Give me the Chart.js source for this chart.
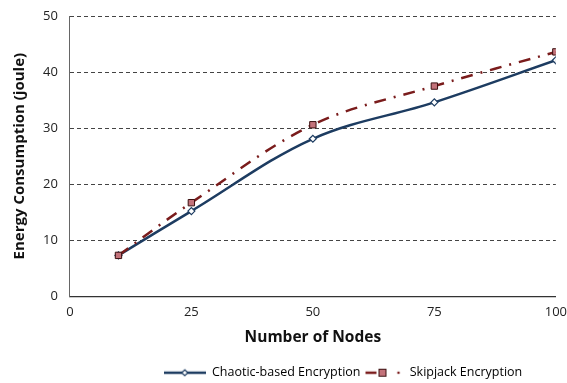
<!DOCTYPE html>
<html>
<head>
<meta charset="utf-8">
<script src="https://cdn.jsdelivr.net/npm/chart.js@4"></script>
<style>
  html, body { margin: 0; padding: 0; background: #fff; }
  #wrap { width: 567px; height: 383px; }
</style>
</head>
<body>
<div id="wrap"><canvas id="chart"></canvas></div>
<script>
// data
const nodes = [10, 25, 50, 75, 100];
const chaotic = [7.3, 15.2, 28.1, 34.6, 42.1];
const skipjack = [7.3, 16.7, 30.6, 37.5, 43.6];
const xTicks = [0, 25, 50, 75, 100];
const yTicks = [0, 10, 20, 30, 40, 50];

const navy = '#1d3c61';
const darkRed = '#7a1c1c';
const rose = '#c3727a';

function toPoints(values) {
  return nodes.map((n, i) => ({ x: n, y: values[i] }));
}

// legend swatches: line with marker
function chaoticSwatch() {
  const c = document.createElement('canvas');
  c.width = 42; c.height = 10;
  const ctx = c.getContext('2d');
  ctx.strokeStyle = navy; ctx.lineWidth = 2.5;
  ctx.beginPath(); ctx.moveTo(0, 5); ctx.lineTo(42, 5); ctx.stroke();
  ctx.fillStyle = '#fff'; ctx.strokeStyle = navy; ctx.lineWidth = 1.2;
  ctx.beginPath();
  ctx.moveTo(21, 2); ctx.lineTo(24, 5); ctx.lineTo(21, 8); ctx.lineTo(18, 5);
  ctx.closePath(); ctx.fill(); ctx.stroke();
  return c;
}

function skipjackSwatch() {
  const c = document.createElement('canvas');
  c.width = 42; c.height = 10;
  const ctx = c.getContext('2d');
  ctx.strokeStyle = darkRed; ctx.lineWidth = 2.5;
  ctx.beginPath(); ctx.moveTo(4, 5); ctx.lineTo(15, 5); ctx.stroke();
  ctx.fillStyle = rose; ctx.strokeStyle = '#3a1010'; ctx.lineWidth = 1;
  ctx.fillRect(17.5, 1.5, 7, 7); ctx.strokeRect(17.5, 1.5, 7, 7);
  ctx.fillStyle = darkRed;
  ctx.beginPath(); ctx.arc(37, 5, 1.3, 0, Math.PI * 2); ctx.fill();
  return c;
}

const swatches = [chaoticSwatch(), skipjackSwatch()];

// the legend in the picture sits right of centre and a bit lower
const legendShift = {
  id: 'legendShift',
  afterLayout(chart) {
    chart.legend.left += 54;
    chart.legend.right += 54;
    chart.legend.top += 6;
    chart.legend.bottom += 6;
  }
};

const chart = new Chart(document.getElementById('chart'), {
  type: 'line',
  data: {
    datasets: [
      {
        label: 'Chaotic-based Encryption',
        data: toPoints(chaotic),
        borderColor: navy,
        borderWidth: 2.5,
        tension: 0.35,
        pointStyle: 'rectRot',
        pointRadius: 3.5,
        pointBackgroundColor: '#fff',
        pointBorderColor: navy,
        pointBorderWidth: 1.2,
        order: 2
      },
      {
        label: 'Skipjack Encryption',
        data: toPoints(skipjack),
        borderColor: darkRed,
        borderWidth: 2.5,
        borderDash: [12, 8, 2, 8],
        tension: 0.35,
        pointStyle: 'rect',
        pointRadius: 4.5,
        pointBackgroundColor: rose,
        pointBorderColor: '#3a1010',
        pointBorderWidth: 1,
        order: 1
      }
    ]
  },
  options: {
    responsive: true,
    maintainAspectRatio: false,
    animation: false,
    layout: { padding: { left: 11, right: 0, top: 16, bottom: 0 } },
    plugins: {
      tooltip: { enabled: false },
      legend: {
        position: 'bottom',
        labels: {
          usePointStyle: true,
          pointStyleWidth: 42,
          color: '#222',
          padding: 1,
          font: { family: 'Open Sans', size: 12.5 },
          generateLabels: (ch) => ch.data.datasets.map((ds, i) => ({
            text: ds.label,
            pointStyle: swatches[i],
            fillStyle: 'transparent',
            strokeStyle: 'transparent',
            lineWidth: 0,
            datasetIndex: i
          }))
        }
      }
    },
    scales: {
      x: {
        type: 'linear',
        min: 0,
        max: 100,
        afterBuildTicks: (axis) => { axis.ticks = xTicks.map(v => ({ value: v })); },
        grid: { display: false, drawTicks: true, tickLength: 8 },
        border: { display: true, color: '#333', width: 1.2 },
        ticks: { color: '#222', padding: 0, font: { family: 'Open Sans', size: 13 } },
        title: {
          display: true,
          text: 'Number of Nodes',
          color: '#111',
          padding: { top: 8, bottom: 13 },
          font: { family: 'Open Sans', size: 15.5, weight: 'bold' }
        }
      },
      y: {
        min: 0,
        max: 50,
        afterBuildTicks: (axis) => { axis.ticks = yTicks.map(v => ({ value: v })); },
        grid: {
          drawTicks: true,
          tickLength: 10,
          tickColor: 'transparent',
          color: (c) => c.tick && c.tick.value === 0 ? 'transparent' : '#444',
          lineWidth: 1
        },
        border: { display: true, color: '#666', width: 1, dash: [4, 3] },
        ticks: { color: '#222', padding: 2, font: { family: 'Open Sans', size: 13, lineHeight: 1 } },
        title: {
          display: true,
          text: 'Energy Consumption (joule)',
          color: '#111',
          padding: { top: 0, bottom: 12 },
          font: { family: 'Open Sans', size: 15, weight: 'bold' }
        }
      }
    }
  },
  plugins: [legendShift]
});
</script>
</body>
</html>
